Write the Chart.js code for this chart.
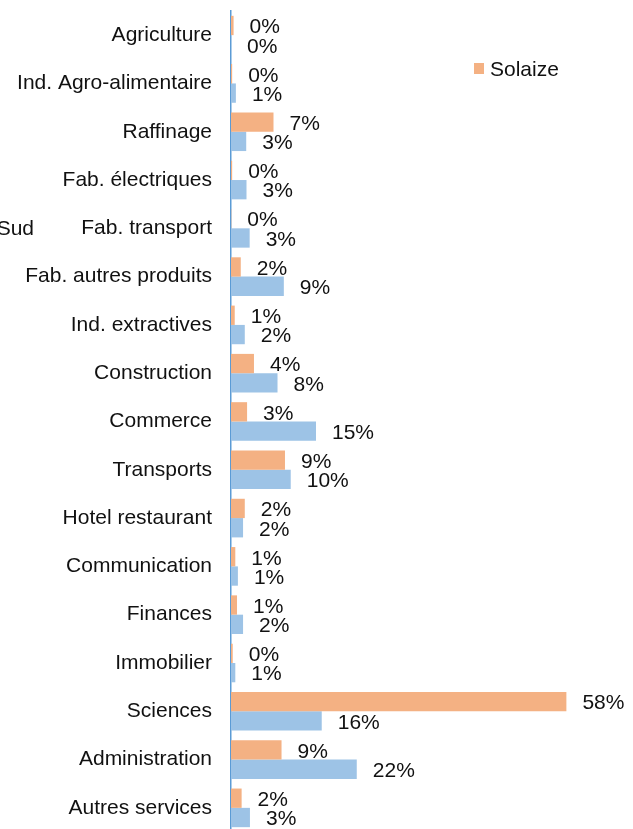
<!DOCTYPE html>
<html>
<head>
<meta charset="utf-8">
<script src="https://cdn.jsdelivr.net/npm/chart.js@4.4.0/dist/chart.umd.min.js"></script>
<style>
  html, body { margin: 0; padding: 0; background: #fff; overflow: hidden; }
  .wrap { width: 633px; height: 829px; overflow: hidden; position: relative; }
  canvas { display: block; }
</style>
</head>
<body>
<div class="wrap">
  <canvas id="chart" width="633" height="835"></canvas>
</div>
<script>
const categories = [
    'Agriculture', 'Ind. Agro-alimentaire', 'Raffinage', 'Fab. électriques',
    'Fab. transport', 'Fab. autres produits', 'Ind. extractives', 'Construction',
    'Commerce', 'Transports', 'Hotel restaurant', 'Communication', 'Finances',
    'Immobilier', 'Sciences', 'Administration', 'Autres services'
]

// Solaize (orange)
const solaize = [0.45, 0.2, 7.4, 0.2, 0.05, 1.7, 0.65, 4.0, 2.8, 9.4, 2.4, 0.75, 1.05, 0.3, 58.4, 8.8, 1.85]
// comparison zone (blue), only "Sud" of its name is visible
const sud = [0.0, 0.85, 2.65, 2.7, 3.25, 9.2, 2.4, 8.1, 14.8, 10.4, 2.1, 1.2, 2.1, 0.75, 15.8, 21.9, 3.3]

const seriesNames = ['Solaize', 'Lyon Sud']
const orange = '#F4B183'
const blue = '#9DC3E6'
const font = "'Liberation Sans', Arial, sans-serif"

const ctx = document.getElementById('chart').getContext('2d')

// value labels next to each bar, like the office chart
const barLabels = {
    id: 'barLabels',
    afterDatasetsDraw(chart) {
        const c = chart.ctx
        c.save()
        c.font = `21px ${font}`
        c.fillStyle = '#111'
        c.textAlign = 'left'
        c.textBaseline = 'middle'
        chart.data.datasets.forEach((ds, i) => {
            chart.getDatasetMeta(i).data.forEach((bar, j) => {
                c.fillText(Math.round(ds.data[j]) + '%', bar.x + 16, bar.y + 2)
            })
        })
        c.restore()
    }
}

// legend pieces as they sit in the picture
const legendBits = {
    id: 'legendBits',
    afterDraw(chart) {
        const c = chart.ctx
        c.save()
        c.font = `21px ${font}`
        c.fillStyle = orange
        c.fillRect(474, 63, 10, 11)
        c.fillStyle = '#111'
        c.textBaseline = 'middle'
        c.textAlign = 'left'
        c.fillText(chart.data.datasets[0].label, 490, 70)
        c.textAlign = 'right'
        c.fillText(chart.data.datasets[1].label, 34, 229)
        c.restore()
    }
}

new Chart(ctx, {
    type: 'bar',
    data: {
        labels: categories,
        datasets: [
            { label: seriesNames[0], data: solaize, backgroundColor: orange, borderWidth: 0 },
            { label: seriesNames[1], data: sud, backgroundColor: blue, borderWidth: 0 }
        ]
    },
    options: {
        indexAxis: 'y',
        responsive: false,
        animation: false,
        layout: { padding: { top: 11, bottom: 3, left: 0, right: 0 } },
        datasets: { bar: { barPercentage: 1, categoryPercentage: 0.8 } },
        plugins: {
            legend: { display: false },
            tooltip: { enabled: false }
        },
        scales: {
            x: { display: false, min: 0, max: 70 },
            y: {
                afterFit: (scale) => {
                    scale.width = 231
                    scale.paddingTop = 0
                    scale.paddingBottom = 0
                },
                grid: { display: false, drawTicks: false },
                border: { display: true, color: '#5B9BD5', width: 1.5 },
                ticks: {
                    autoSkip: false,
                    padding: 19,
                    color: '#111',
                    font: { family: font, size: 21 }
                }
            }
        }
    },
    plugins: [barLabels, legendBits]
})
</script>
</body>
</html>
